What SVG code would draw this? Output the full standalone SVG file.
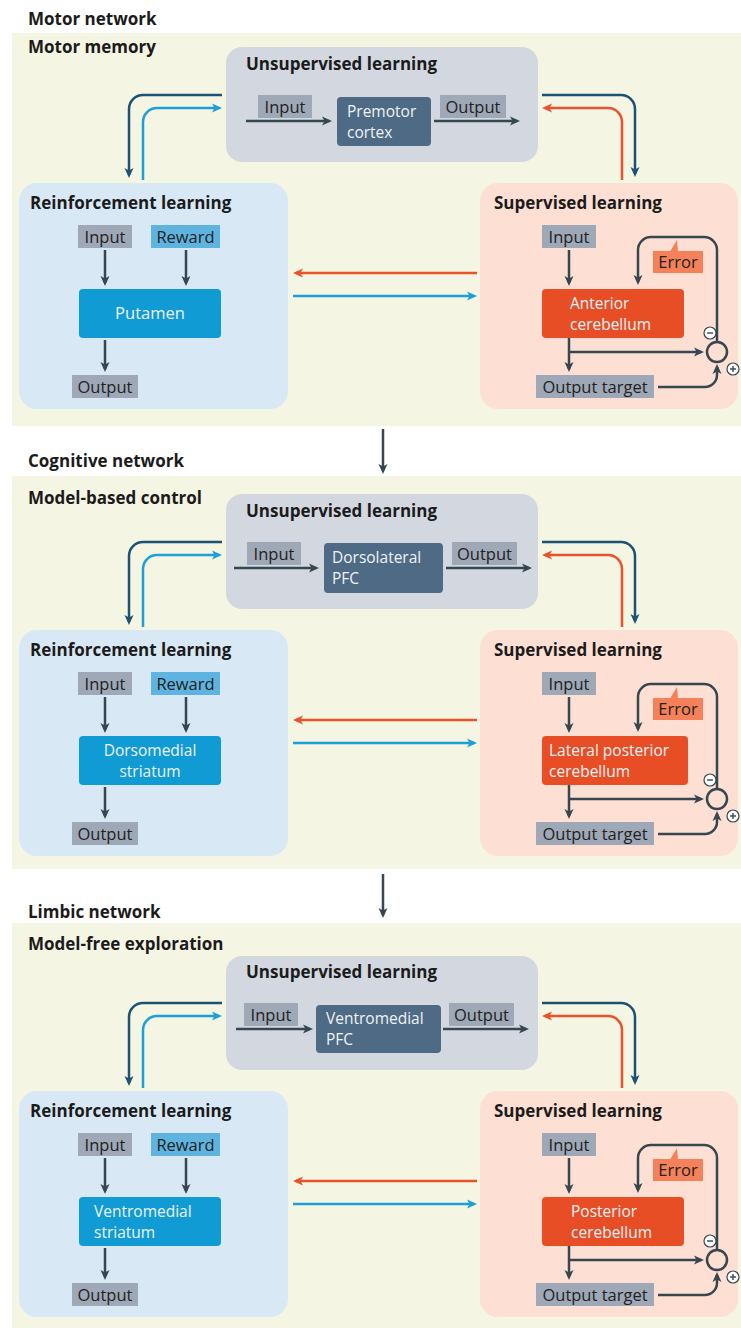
<svg xmlns="http://www.w3.org/2000/svg" width="741" height="1328" viewBox="0 0 741 1328">
<defs>
<style>
.bg{fill:#f5f5e4}
.unsup{fill:#d3d8e0}
.rl{fill:#d9e8f5}
.sl{fill:#fde0d3}
.lbl{fill:#9ea8b7}
.rew{fill:#5fb4df}
.pfc{fill:#4f6a84}
.str{fill:#109bd4}
.cer{fill:#e84e25}
.err{fill:#f5815a}
.h{font-family:"Open Sans","Liberation Sans",sans-serif;font-weight:700;font-size:17px;fill:#1b1b1b}
.t{font-family:"Open Sans","Liberation Sans",sans-serif;font-size:16.5px;fill:#222}
.w{font-family:"Open Sans","Liberation Sans",sans-serif;font-size:16.5px;fill:#eef3f7}
.w2{font-family:"Open Sans","Liberation Sans",sans-serif;font-size:15.5px;fill:#eef3f7}
.c{text-anchor:middle}
.ln{fill:none;stroke-width:2.5}
.dk{stroke:#37474f}
.db{stroke:#1c5374}
.lb{stroke:#1d9fd8}
.or{stroke:#e8532b}
.sym{fill:#fff;stroke:#37474f;stroke-width:1.2}
.symln{stroke:#37474f;stroke-width:1.4}
</style>
<marker id="ah-dk" viewBox="0 0 10 10" markerWidth="10" markerHeight="10" markerUnits="userSpaceOnUse" refX="7" refY="5" orient="auto"><path d="M0,0.5 L10,5 L0,9.5 L2.5,5 z" fill="#37474f"/></marker>
<marker id="ah-db" viewBox="0 0 10 10" markerWidth="10" markerHeight="10" markerUnits="userSpaceOnUse" refX="7" refY="5" orient="auto"><path d="M0,0.5 L10,5 L0,9.5 L2.5,5 z" fill="#1c5374"/></marker>
<marker id="ah-lb" viewBox="0 0 10 10" markerWidth="10" markerHeight="10" markerUnits="userSpaceOnUse" refX="7" refY="5" orient="auto"><path d="M0,0.5 L10,5 L0,9.5 L2.5,5 z" fill="#1d9fd8"/></marker>
<marker id="ah-or" viewBox="0 0 10 10" markerWidth="10" markerHeight="10" markerUnits="userSpaceOnUse" refX="7" refY="5" orient="auto"><path d="M0,0.5 L10,5 L0,9.5 L2.5,5 z" fill="#e8532b"/></marker>
</defs>
<rect x="0" y="0" width="741" height="1328" fill="#ffffff"/>

<!-- Panel backgrounds and headers -->
<g id="panel1-frame">
<text class="h" x="28" y="25">Motor network</text>
<rect class="bg" x="12" y="33" width="729" height="393"/>
<text class="h" x="28" y="53">Motor memory</text>
</g>
<g id="panel2-frame">
<text class="h" x="28" y="467">Cognitive network</text>
<rect class="bg" x="12" y="476" width="729" height="393"/>
<text class="h" x="28" y="504">Model-based control</text>
</g>
<g id="panel3-frame">
<text class="h" x="28" y="918">Limbic network</text>
<rect class="bg" x="12" y="923" width="729" height="405"/>
<text class="h" x="28" y="950">Model-free exploration</text>
</g>

<g id="between-connectors">
<path class="ln dk" d="M383,429 V471" marker-end="url(#ah-dk)"/>
<path class="ln dk" d="M383,874 V915" marker-end="url(#ah-dk)"/>
</g>

<!-- ================= PANEL 1 ================= -->
<g id="panel1" transform="translate(0,0)">
<g id="p1-unsup"><rect class="unsup" x="226" y="47" width="312" height="115" rx="16"/><text class="h" x="246" y="70">Unsupervised learning</text></g>
<g id="p1-u-input"><rect class="lbl" x="258" y="95" width="54" height="23"/><text class="t c" x="285" y="112.5">Input</text></g>
<g id="p1-premotor"><rect class="pfc" x="337" y="97" width="94" height="49" rx="4"/><text class="w2" x="347" y="116.5">Premotor</text><text class="w2" x="347" y="137.7">cortex</text></g>
<g id="p1-u-output"><rect class="lbl" x="440" y="95" width="66" height="23"/><text class="t c" x="473" y="112.5">Output</text></g>

<g id="p1-rl"><rect class="rl" x="19" y="183" width="269" height="226" rx="18"/><text class="h" x="30" y="209">Reinforcement learning</text></g>
<g id="p1-r-input"><rect class="lbl" x="78" y="225" width="54" height="23"/><text class="t c" x="105" y="242.5">Input</text></g>
<g id="p1-r-reward"><rect class="rew" x="151" y="225" width="69" height="23"/><text class="t c" x="185.5" y="242.5">Reward</text></g>
<g id="p1-putamen"><rect class="str" x="79" y="289" width="142" height="49" rx="4"/><text class="w c" x="150" y="319">Putamen</text></g>
<g id="p1-r-output"><rect class="lbl" x="72" y="375" width="66" height="23"/><text class="t c" x="105" y="392.5">Output</text></g>

<g id="p1-sl"><rect class="sl" x="480" y="183" width="258" height="226" rx="18"/><text class="h" x="494" y="209">Supervised learning</text></g>
<g id="p1-s-input"><rect class="lbl" x="542" y="225" width="54" height="23"/><text class="t c" x="569" y="242.5">Input</text></g>
<g id="p1-cereb"><rect class="cer" x="542" y="289" width="142" height="49" rx="4"/><text class="w2" x="570" y="308.5">Anterior</text><text class="w2" x="570" y="329.7">cerebellum</text></g>
<g id="p1-error"><rect class="err" x="653" y="251" width="50" height="22"/><polygon class="err" points="670,251.5 677,240 678,251.5"/><text class="t c" x="678" y="268">Error</text></g>
<g id="p1-target"><rect class="lbl" x="536" y="375" width="118" height="23"/><text class="t c" x="595" y="392.5">Output target</text></g>
<g id="p1-comparator"><circle cx="717" cy="352" r="10" fill="none" stroke="#37474f" stroke-width="2.5"/>
<circle class="sym" cx="710" cy="333" r="6"/><line class="symln" x1="707" y1="333" x2="713" y2="333"/>
<circle class="sym" cx="733" cy="369" r="6"/><line class="symln" x1="730" y1="369" x2="736" y2="369"/><line class="symln" x1="733" y1="366" x2="733" y2="372"/></g>

<g id="p1-connectors">
<path class="ln dk" d="M246,121 H329" marker-end="url(#ah-dk)"/>
<path class="ln dk" d="M434,121 H517" marker-end="url(#ah-dk)"/>
<path class="ln db" d="M222,95 H143 A14,14 0 0 0 129,109 V175" marker-end="url(#ah-db)"/>
<path class="ln lb" d="M143,180 V122 A14,14 0 0 1 157,108 H219" marker-end="url(#ah-lb)"/>
<path class="ln db" d="M542,95 H621 A14,14 0 0 1 635,109 V174" marker-end="url(#ah-db)"/>
<path class="ln or" d="M622,180 V122 A14,14 0 0 0 608,108 H545" marker-end="url(#ah-or)"/>
<path class="ln dk" d="M105,250 V283" marker-end="url(#ah-dk)"/>
<path class="ln dk" d="M186,250 V283" marker-end="url(#ah-dk)"/>
<path class="ln dk" d="M105,340 V369" marker-end="url(#ah-dk)"/>
<path class="ln or" d="M477,273 H296" marker-end="url(#ah-or)"/>
<path class="ln lb" d="M293,296 H474" marker-end="url(#ah-lb)"/>
<path class="ln dk" d="M569,250 V283" marker-end="url(#ah-dk)"/>
<path class="ln dk" d="M569,338 V369" marker-end="url(#ah-dk)"/>
<path class="ln dk" d="M569,352 H701" marker-end="url(#ah-dk)"/>
<path class="ln dk" d="M717,342 V250 A13,13 0 0 0 704,237 H651 A13,13 0 0 0 638,250 V282" marker-end="url(#ah-dk)"/>
<path class="ln dk" d="M658,387 H705 A12,12 0 0 0 717,375 V367" marker-end="url(#ah-dk)"/>
</g>
</g>

<!-- ================= PANEL 2 ================= -->
<g id="panel2" transform="translate(0,447)">
<g id="p2-unsup"><rect class="unsup" x="226" y="47" width="312" height="115" rx="16"/><text class="h" x="246" y="70">Unsupervised learning</text></g>
<g id="p2-u-input"><rect class="lbl" x="247" y="95" width="54" height="23"/><text class="t c" x="274" y="112.5">Input</text></g>
<g id="p2-dlpfc"><rect class="pfc" x="324" y="96" width="119" height="50" rx="4"/><text class="w2" x="332" y="116">Dorsolateral</text><text class="w2" x="332" y="137.2">PFC</text></g>
<g id="p2-u-output"><rect class="lbl" x="452" y="95" width="65" height="23"/><text class="t c" x="484.5" y="112.5">Output</text></g>

<g id="p2-rl"><rect class="rl" x="19" y="183" width="269" height="226" rx="18"/><text class="h" x="30" y="209">Reinforcement learning</text></g>
<g id="p2-r-input"><rect class="lbl" x="78" y="225" width="54" height="23"/><text class="t c" x="105" y="242.5">Input</text></g>
<g id="p2-r-reward"><rect class="rew" x="151" y="225" width="69" height="23"/><text class="t c" x="185.5" y="242.5">Reward</text></g>
<g id="p2-dms"><rect class="str" x="79" y="289" width="142" height="49" rx="4"/><text class="w2 c" x="150" y="308.5">Dorsomedial</text><text class="w2 c" x="150" y="329.7">striatum</text></g>
<g id="p2-r-output"><rect class="lbl" x="72" y="375" width="66" height="23"/><text class="t c" x="105" y="392.5">Output</text></g>

<g id="p2-sl"><rect class="sl" x="480" y="183" width="258" height="226" rx="18"/><text class="h" x="494" y="209">Supervised learning</text></g>
<g id="p2-s-input"><rect class="lbl" x="542" y="225" width="54" height="23"/><text class="t c" x="569" y="242.5">Input</text></g>
<g id="p2-cereb"><rect class="cer" x="542" y="289" width="146" height="49" rx="4"/><text class="w2" x="549" y="308.5">Lateral posterior</text><text class="w2" x="549" y="329.7">cerebellum</text></g>
<g id="p2-error"><rect class="err" x="653" y="251" width="50" height="22"/><polygon class="err" points="670,251.5 677,240 678,251.5"/><text class="t c" x="678" y="268">Error</text></g>
<g id="p2-target"><rect class="lbl" x="536" y="375" width="118" height="23"/><text class="t c" x="595" y="392.5">Output target</text></g>
<g id="p2-comparator"><circle cx="717" cy="352" r="10" fill="none" stroke="#37474f" stroke-width="2.5"/>
<circle class="sym" cx="710" cy="333" r="6"/><line class="symln" x1="707" y1="333" x2="713" y2="333"/>
<circle class="sym" cx="733" cy="369" r="6"/><line class="symln" x1="730" y1="369" x2="736" y2="369"/><line class="symln" x1="733" y1="366" x2="733" y2="372"/></g>

<g id="p2-connectors">
<path class="ln dk" d="M234,121 H316" marker-end="url(#ah-dk)"/>
<path class="ln dk" d="M446,121 H529" marker-end="url(#ah-dk)"/>
<path class="ln db" d="M222,95 H143 A14,14 0 0 0 129,109 V175" marker-end="url(#ah-db)"/>
<path class="ln lb" d="M143,180 V122 A14,14 0 0 1 157,108 H219" marker-end="url(#ah-lb)"/>
<path class="ln db" d="M542,95 H621 A14,14 0 0 1 635,109 V174" marker-end="url(#ah-db)"/>
<path class="ln or" d="M622,180 V122 A14,14 0 0 0 608,108 H545" marker-end="url(#ah-or)"/>
<path class="ln dk" d="M105,250 V283" marker-end="url(#ah-dk)"/>
<path class="ln dk" d="M186,250 V283" marker-end="url(#ah-dk)"/>
<path class="ln dk" d="M105,340 V369" marker-end="url(#ah-dk)"/>
<path class="ln or" d="M477,273 H296" marker-end="url(#ah-or)"/>
<path class="ln lb" d="M293,296 H474" marker-end="url(#ah-lb)"/>
<path class="ln dk" d="M569,250 V283" marker-end="url(#ah-dk)"/>
<path class="ln dk" d="M569,338 V369" marker-end="url(#ah-dk)"/>
<path class="ln dk" d="M569,352 H701" marker-end="url(#ah-dk)"/>
<path class="ln dk" d="M717,342 V250 A13,13 0 0 0 704,237 H651 A13,13 0 0 0 638,250 V282" marker-end="url(#ah-dk)"/>
<path class="ln dk" d="M658,387 H705 A12,12 0 0 0 717,375 V367" marker-end="url(#ah-dk)"/>
</g>
</g>

<!-- ================= PANEL 3 ================= -->
<g id="panel3" transform="translate(0,908)">
<g id="p3-unsup"><rect class="unsup" x="226" y="48" width="312" height="114" rx="16"/><text class="h" x="246" y="70">Unsupervised learning</text></g>
<g id="p3-u-input"><rect class="lbl" x="244" y="95" width="54" height="23"/><text class="t c" x="271" y="112.5">Input</text></g>
<g id="p3-vmpfc"><rect class="pfc" x="316" y="97" width="125" height="48" rx="4"/><text class="w2" x="326" y="116">Ventromedial</text><text class="w2" x="326" y="137.2">PFC</text></g>
<g id="p3-u-output"><rect class="lbl" x="449" y="95" width="65" height="23"/><text class="t c" x="481.5" y="112.5">Output</text></g>

<g id="p3-rl"><rect class="rl" x="19" y="183" width="269" height="226" rx="18"/><text class="h" x="30" y="209">Reinforcement learning</text></g>
<g id="p3-r-input"><rect class="lbl" x="78" y="225" width="54" height="23"/><text class="t c" x="105" y="242.5">Input</text></g>
<g id="p3-r-reward"><rect class="rew" x="151" y="225" width="69" height="23"/><text class="t c" x="185.5" y="242.5">Reward</text></g>
<g id="p3-vms"><rect class="str" x="79" y="289" width="142" height="49" rx="4"/><text class="w2" x="94" y="308.5">Ventromedial</text><text class="w2" x="94" y="329.7">striatum</text></g>
<g id="p3-r-output"><rect class="lbl" x="72" y="375" width="66" height="23"/><text class="t c" x="105" y="392.5">Output</text></g>

<g id="p3-sl"><rect class="sl" x="480" y="183" width="258" height="226" rx="18"/><text class="h" x="494" y="209">Supervised learning</text></g>
<g id="p3-s-input"><rect class="lbl" x="542" y="225" width="54" height="23"/><text class="t c" x="569" y="242.5">Input</text></g>
<g id="p3-cereb"><rect class="cer" x="542" y="289" width="142" height="49" rx="4"/><text class="w2" x="571" y="308.5">Posterior</text><text class="w2" x="571" y="329.7">cerebellum</text></g>
<g id="p3-error"><rect class="err" x="653" y="251" width="50" height="22"/><polygon class="err" points="670,251.5 677,240 678,251.5"/><text class="t c" x="678" y="268">Error</text></g>
<g id="p3-target"><rect class="lbl" x="536" y="375" width="118" height="23"/><text class="t c" x="595" y="392.5">Output target</text></g>
<g id="p3-comparator"><circle cx="717" cy="352" r="10" fill="none" stroke="#37474f" stroke-width="2.5"/>
<circle class="sym" cx="710" cy="333" r="6"/><line class="symln" x1="707" y1="333" x2="713" y2="333"/>
<circle class="sym" cx="733" cy="369" r="6"/><line class="symln" x1="730" y1="369" x2="736" y2="369"/><line class="symln" x1="733" y1="366" x2="733" y2="372"/></g>

<g id="p3-connectors">
<path class="ln dk" d="M236,121 H310" marker-end="url(#ah-dk)"/>
<path class="ln dk" d="M443,121 H526" marker-end="url(#ah-dk)"/>
<path class="ln db" d="M222,95 H143 A14,14 0 0 0 129,109 V175" marker-end="url(#ah-db)"/>
<path class="ln lb" d="M143,180 V122 A14,14 0 0 1 157,108 H219" marker-end="url(#ah-lb)"/>
<path class="ln db" d="M542,95 H621 A14,14 0 0 1 635,109 V174" marker-end="url(#ah-db)"/>
<path class="ln or" d="M622,180 V122 A14,14 0 0 0 608,108 H545" marker-end="url(#ah-or)"/>
<path class="ln dk" d="M105,250 V283" marker-end="url(#ah-dk)"/>
<path class="ln dk" d="M186,250 V283" marker-end="url(#ah-dk)"/>
<path class="ln dk" d="M105,340 V369" marker-end="url(#ah-dk)"/>
<path class="ln or" d="M477,273 H296" marker-end="url(#ah-or)"/>
<path class="ln lb" d="M293,296 H474" marker-end="url(#ah-lb)"/>
<path class="ln dk" d="M569,250 V283" marker-end="url(#ah-dk)"/>
<path class="ln dk" d="M569,338 V369" marker-end="url(#ah-dk)"/>
<path class="ln dk" d="M569,352 H701" marker-end="url(#ah-dk)"/>
<path class="ln dk" d="M717,342 V250 A13,13 0 0 0 704,237 H651 A13,13 0 0 0 638,250 V282" marker-end="url(#ah-dk)"/>
<path class="ln dk" d="M658,387 H705 A12,12 0 0 0 717,375 V367" marker-end="url(#ah-dk)"/>
</g>
</g>
</svg>
